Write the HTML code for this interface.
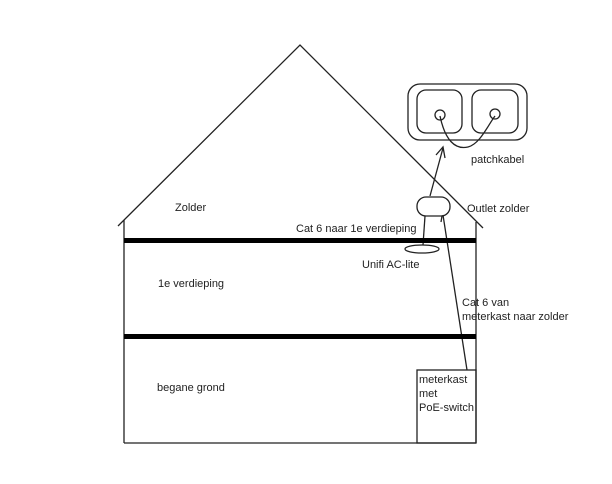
<!DOCTYPE html><html><head><style>body{margin:0;background:#fff}text{font-family:"Liberation Sans",sans-serif;font-size:11px;fill:#222}</style></head><body>
<svg width="612" height="479" viewBox="0 0 612 479" xmlns="http://www.w3.org/2000/svg">
<g stroke="#222" fill="none" stroke-width="1.3">
<polyline points="118,226 300,45 483,228"/>
<line x1="124" y1="220" x2="124" y2="443"/>
<line x1="476" y1="222" x2="476" y2="443"/>
<line x1="124" y1="443" x2="476" y2="443"/>
<rect x="417" y="370" width="59" height="73"/>
<line x1="467" y1="370" x2="443" y2="215"/>
<rect x="417" y="197" width="33" height="19" rx="9"/>
<line x1="425" y1="216" x2="423" y2="245"/>
<line x1="442" y1="216" x2="441" y2="222"/>
<ellipse cx="422" cy="249" rx="17" ry="4"/>
<line x1="430" y1="196" x2="443" y2="148"/>
<polyline points="436,155 443,147 445,158"/>
<rect x="408" y="84" width="119" height="56" rx="12"/>
<rect x="417" y="90" width="45" height="43" rx="9"/>
<rect x="472" y="90" width="46" height="43" rx="9"/>
<circle cx="440" cy="115" r="5"/>
<circle cx="495" cy="114" r="5"/>
<path d="M440,116 C445,140 455,150 468,147 C480,144 488,125 495,116"/>
</g>
<rect x="124" y="238" width="352" height="5" fill="#000"/>
<rect x="124" y="334" width="352" height="5" fill="#000"/>
<text x="175" y="211">Zolder</text>
<text x="296" y="232">Cat 6 naar 1e verdieping</text>
<text x="467" y="212">Outlet zolder</text>
<text x="471" y="163">patchkabel</text>
<text x="362" y="268">Unifi AC-lite</text>
<text x="158" y="287">1e verdieping</text>
<text x="462" y="306">Cat 6 van</text>
<text x="462" y="320">meterkast naar zolder</text>
<text x="157" y="391">begane grond</text>
<text x="419" y="383">meterkast</text>
<text x="419" y="397">met</text>
<text x="419" y="411">PoE-switch</text>
</svg></body></html>
